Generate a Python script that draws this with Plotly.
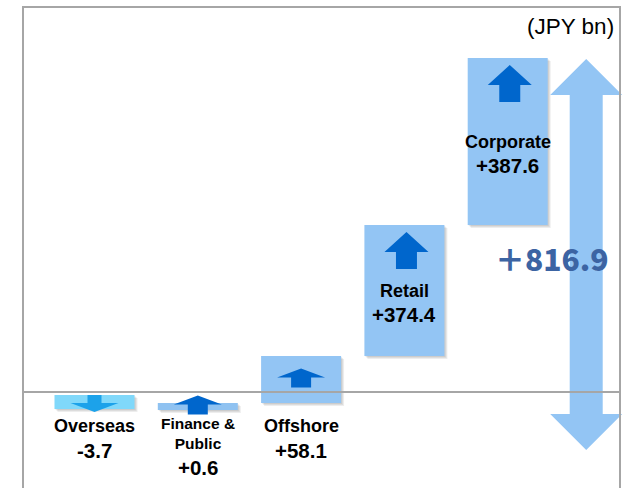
import plotly.graph_objects as go

# %%
segments = ["Overseas", "Finance &<br>Public", "Offshore", "Retail", "Corporate"]
changes = [-3.7, 0.6, 58.1, 374.4, 387.6]
total_change = 816.9
unit_label = "(JPY bn)"

# the slide's bars are schematic (not to scale): extents as drawn, in chart units
bar_bottom = [-17, -18, -11, 36, 167]
bar_top = [-3, -11, 36, 167, 334]
total_low, total_high = -58, 333

# %%
W, H = 625, 488
PX_X = 103.3  # pixels per bar slot
X0 = 94.5  # pixel position of first slot
BAR_W = 80 / PX_X
TOTAL_X = 4.76

BAR_BLUE = "#93c5f4"
BAR_COLORS = ["#80d8fa", "#8fc2f1", BAR_BLUE, BAR_BLUE, BAR_BLUE]
ARROW_BLUE = "#0066cc"
ARROW_LIGHT = "#1ca2ea"
FONT = "Arial, Liberation Sans, sans-serif"


def fmt(v):
    return f"{v:+.1f}"


def arrow_path(xc, y_tail, y_tip, head_len, head_w, shaft_w):
    d = 1 if y_tip > y_tail else -1
    yb = y_tip - d * head_len
    hw, sw = head_w / 2 / PX_X, shaft_w / 2 / PX_X
    pts = [(xc - sw, y_tail), (xc - sw, yb), (xc - hw, yb), (xc, y_tip),
           (xc + hw, yb), (xc + sw, yb), (xc + sw, y_tail)]
    return "M " + " L ".join(f"{x:.4f},{y:.2f}" for x, y in pts) + " Z"


def double_arrow_path(xc, lo, hi, head_len, head_w, shaft_w):
    hw, sw = head_w / 2 / PX_X, shaft_w / 2 / PX_X
    pts = [(xc, hi), (xc + hw, hi - head_len), (xc + sw, hi - head_len),
           (xc + sw, lo + head_len), (xc + hw, lo + head_len), (xc, lo),
           (xc - hw, lo + head_len), (xc - sw, lo + head_len),
           (xc - sw, hi - head_len), (xc - hw, hi - head_len)]
    return "M " + " L ".join(f"{x:.4f},{y:.2f}" for x, y in pts) + " Z"


idx = list(range(len(segments)))
fig = go.Figure()

fig.add_trace(
    go.Bar(
        x=idx,
        y=[t - b for t, b in zip(bar_top, bar_bottom)],
        base=bar_bottom,
        width=BAR_W,
        marker=dict(color=BAR_COLORS, line=dict(width=0)),
        hoverinfo="skip",
    )
)

shapes = []
annotations = []

for i, (name, val, lo, hi) in enumerate(zip(segments, changes, bar_bottom, bar_top)):
    # soft drop shadow
    for k in (1, 2, 3):
        shapes.append(dict(
            type="rect", xref="x", yref="y", layer="below",
            x0=i - BAR_W / 2 + k / PX_X, x1=i + BAR_W / 2 + k / PX_X,
            y0=lo - k, y1=hi - k,
            fillcolor="rgba(0,0,0,0.07)", line=dict(width=0),
        ))

    big = hi - lo > 100
    mid = (lo + hi) / 2
    if big:
        path = arrow_path(i + 0.02, hi - 44, hi - 7, 20, 44, 21)
        color = ARROW_BLUE
    elif val >= 0:
        path = arrow_path(i, mid - 8, mid + 11, 9, 48, 20)
        color = ARROW_BLUE
    else:
        path = arrow_path(i, mid + 7, mid - 10, 9, 48, 14)
        color = ARROW_LIGHT
    shapes.append(dict(type="path", xref="x", yref="y", path=path,
                       fillcolor=color, line=dict(width=0), layer="above"))

    n_lines = name.count("<br>") + 1
    name_size = 18 if n_lines == 1 else 15.5
    if big:
        name_y, val_y = mid, mid - 24
    else:
        name_y = -34 if n_lines == 1 else -41
        val_y = name_y - (n_lines - 1) * 0.65 * name_size - 24
    annotations.append(dict(
        x=i, y=name_y, xref="x", yref="y", showarrow=False,
        text="<b>" + name.replace("<br>", "</b><br><b>") + "</b>",
        font=dict(family=FONT, size=name_size, color="black"),
        xanchor="center", yanchor="middle",
    ))
    annotations.append(dict(
        x=i, y=val_y, xref="x", yref="y", showarrow=False,
        text=f"<b>{fmt(val)}</b>",
        font=dict(family=FONT, size=20.5, color="black"),
        xanchor="center", yanchor="middle",
    ))

# total double arrow
shapes.append(dict(
    type="path", xref="x", yref="y", layer="above",
    path=double_arrow_path(TOTAL_X, total_low, total_high, 36, 72, 33),
    fillcolor=BAR_BLUE, line=dict(width=0),
))

# baseline and frame
shapes.append(dict(type="line", xref="paper", yref="y", x0=23 / W, x1=620 / W,
                   y0=0, y1=0, line=dict(color="#a6a6a6", width=2), layer="above"))
shapes.append(dict(type="rect", xref="paper", yref="paper", x0=23 / W, x1=620 / W,
                   y0=-0.1, y1=1 - 7 / H, line=dict(color="#a6a6a6", width=2),
                   fillcolor="rgba(0,0,0,0)", layer="above"))

annotations.append(dict(
    x=3.86, y=134, xref="x", yref="y", showarrow=False,
    text=f"＋{total_change:.1f}",
    font=dict(family="Noto Sans CJK JP", size=30, color="#3c64a3", weight=900),
    xanchor="left", yanchor="middle",
))
annotations.append(dict(
    x=616 / W, y=1 - 27 / H, xref="paper", yref="paper", showarrow=False,
    text=unit_label, font=dict(family=FONT, size=22.5, color="black"),
    xanchor="right", yanchor="middle",
))

fig.update_layout(
    width=W,
    height=H,
    margin=dict(l=0, r=0, t=0, b=0),
    paper_bgcolor="white",
    plot_bgcolor="white",
    showlegend=False,
    xaxis=dict(range=[-X0 / PX_X, (W - X0) / PX_X], visible=False, fixedrange=True),
    yaxis=dict(range=[-(H - 392), 392], visible=False, fixedrange=True),
    shapes=shapes,
    annotations=annotations,
)

# drop the browser's default body margin so the figure sits at the page corner
fig.write_html(
    "out.html",
    config={"displayModeBar": False},
    post_script="document.body.style.margin='0';document.body.style.overflow='hidden';",
)
